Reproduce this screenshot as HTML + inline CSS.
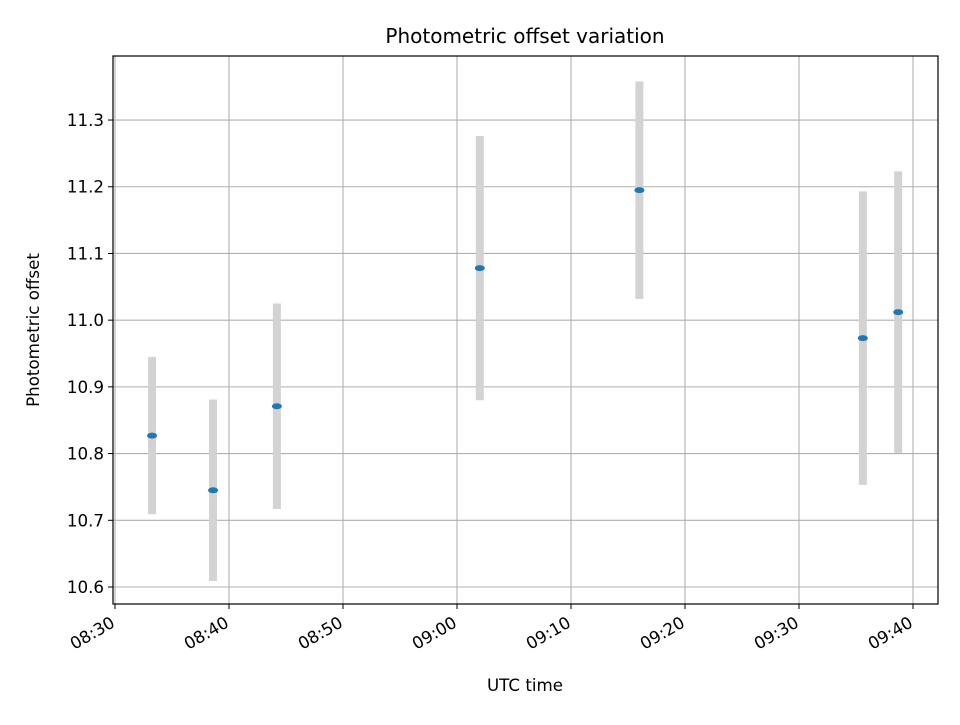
<!DOCTYPE html>
<html><head><meta charset="utf-8"><style>
body{margin:0;background:#fff;}
svg text{font-family:"DejaVu Sans","Liberation Sans",sans-serif;fill:#000;}
</style></head><body>
<svg id="chart" width="960" height="720" xmlns="http://www.w3.org/2000/svg">
<rect width="960" height="720" fill="#fff"/>
<g id="grid"></g><g id="bars"></g><g id="pts"></g><g id="ticks"></g>
<rect x="113" y="56" width="825" height="548" fill="none" stroke="#000" stroke-width="1.2"/>
<text x="525" y="43" font-size="20" text-anchor="middle">Photometric offset variation</text>
<text x="525" y="691" font-size="16.7" text-anchor="middle">UTC time</text>
<text transform="translate(39,330) rotate(-90)" font-size="16.7" text-anchor="middle">Photometric offset</text>
</svg>
<script>
const times=[3.25,8.6,14.2,32.0,46.0,65.6,68.7];
const offsets=[10.827,10.745,10.871,11.078,11.195,10.973,11.012];
const errors=[0.118,0.136,0.154,0.198,0.163,0.220,0.211];
const yTicks=[10.6,10.7,10.8,10.9,11.0,11.1,11.2,11.3];
const xTickMinutes=[0,10,20,30,40,50,60,70];
const xTickLabels=["08:30","08:40","08:50","09:00","09:10","09:20","09:30","09:40"];
const L=113,R=938,T=56,B=604;
const xs=m=>115+m*11.4;
const ys=v=>587-(v-10.6)*667.1;
const NS="http://www.w3.org/2000/svg";
function mk(t,a,p){const e=document.createElementNS(NS,t);for(const k in a)e.setAttribute(k,a[k]);document.getElementById(p).appendChild(e);return e;}
yTicks.forEach((v,i)=>{const y=ys(v);
const g=mk('line',{x1:L,x2:R,y1:y,y2:y,stroke:'#b0b0b0','stroke-width':1.1},'grid');


mk('line',{x1:L-5,x2:L,y1:y,y2:y,stroke:'#000'},'ticks');
const t=mk('text',{x:L-9,y:y+6,'font-size':16.7,'text-anchor':'end'},'ticks');t.textContent=v.toFixed(1);

});
xTickMinutes.forEach((m,i)=>{const x=xs(m);
const g=mk('line',{x1:x,x2:x,y1:T,y2:B,stroke:'#b0b0b0','stroke-width':1.1},'grid');


mk('line',{x1:x,x2:x,y1:B,y2:B+5,stroke:'#000'},'ticks');
const t=mk('text',{x:0,y:0,'font-size':16.7,'text-anchor':'end',transform:`translate(${x+1},${B+22}) rotate(-30)`},'ticks');t.textContent=xTickLabels[i];

});
times.forEach((m,i)=>{const x=xs(m);
const b=mk('line',{x1:x,x2:x,y1:ys(offsets[i]+errors[i]),y2:ys(offsets[i]-errors[i]),stroke:'#d3d3d3','stroke-width':8},'bars');


const p=mk('ellipse',{cx:x,cy:ys(offsets[i]),rx:5,ry:3,fill:'#1f77b4'},'pts');

});
</script>
</body></html>
